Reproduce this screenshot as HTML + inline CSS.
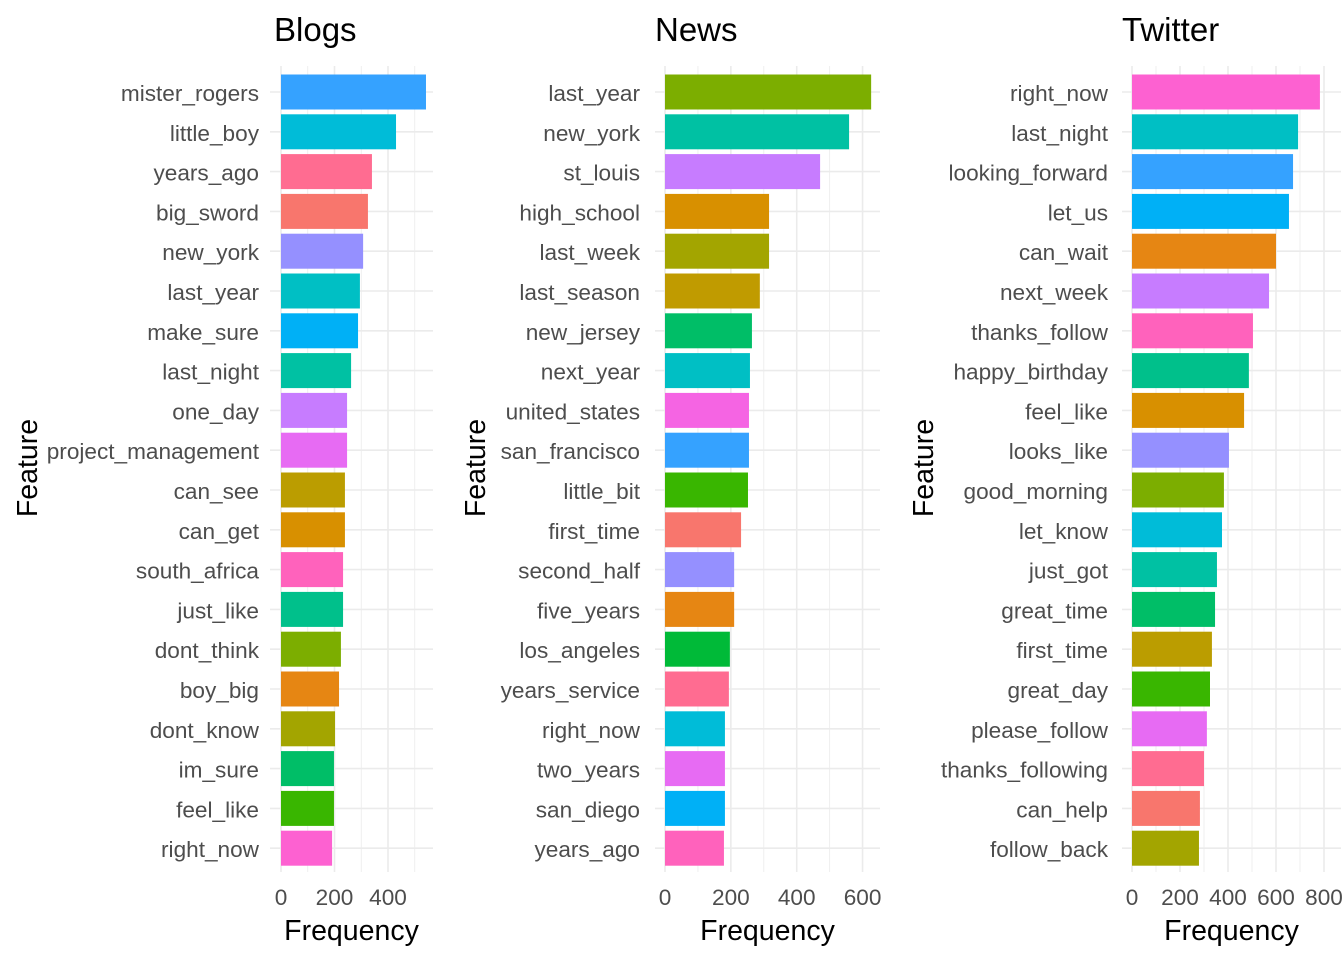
<!DOCTYPE html>
<html><head><meta charset="utf-8"><style>
body{margin:0;background:#fff;}
svg{display:block;font-family:"Liberation Sans",Arial,sans-serif;}
</style></head><body>
<svg id="c" width="1344" height="960"></svg>
<script>
const blogCats=["mister_rogers","little_boy","years_ago","big_sword","new_york","last_year","make_sure","last_night","one_day","project_management","can_see","can_get","south_africa","just_like","dont_think","boy_big","dont_know","im_sure","feel_like","right_now"];
const blogVals=[542,430,340,325,307,295,288,262,247,247,239,239,232,232,224,217,202,198,198,191];
const blogColors=["#35A2FF","#00BCD8","#FF6C91","#F8766D","#9590FF","#00BFC4","#00B0F6","#00C1A3","#C77CFF","#E76BF3","#BB9D00","#D89000","#FF62BC","#00C08B","#7CAE00","#E68613","#A3A500","#00BE67","#39B600","#FD61D1"];
const blogTicks=[0,200,400];
const newsCats=["last_year","new_york","st_louis","high_school","last_week","last_season","new_jersey","next_year","united_states","san_francisco","little_bit","first_time","second_half","five_years","los_angeles","years_service","right_now","two_years","san_diego","years_ago"];
const newsVals=[626,559,471,316,316,288,264,258,255,255,252,231,210,210,197,194,182,182,182,179];
const newsColors=["#7CAE00","#00C1A3","#C77CFF","#D89000","#A3A500","#C09B00","#00BE67","#00BFC4","#F564E3","#35A2FF","#39B600","#F8766D","#9590FF","#E68613","#00BA38","#FF6C91","#00BCD8","#E76BF3","#00B0F6","#FF62BC"];
const newsTicks=[0,200,400,600];
const twCats=["right_now","last_night","looking_forward","let_us","can_wait","next_week","thanks_follow","happy_birthday","feel_like","looks_like","good_morning","let_know","just_got","great_time","first_time","great_day","please_follow","thanks_following","can_help","follow_back"];
const twVals=[783,692,671,654,600,571,504,487,467,404,383,375,354,346,333,325,312,300,283,279];
const twColors=["#FD61D1","#00BFC4","#35A2FF","#00B0F6","#E68613","#C77CFF","#FF62BC","#00C08B","#D89000","#9590FF","#7CAE00","#00BCD8","#00C1A3","#00BE67","#BB9D00","#39B600","#E76BF3","#FF6C91","#F8766D","#A3A500"];
const twTicks=[0,200,400,600,800];

const svg=document.getElementById('c');
const NS="http://www.w3.org/2000/svg";
function mk(tag,attrs,parent){const e=document.createElementNS(NS,tag);for(const k in attrs)e.setAttribute(k,attrs[k]);(parent||svg).appendChild(e);return e;}

function panel(key,title,cats,vals,colors,ticks,x0,pxPer,left,right,labelR,titleX,featX){
  const g=mk('g',{});
  
  
  const xs=v=>x0+v*pxPer;
  const y0=92,step=39.8,bh=35;
  const ys=i=>y0+i*step;
  const top=66,bot=872;
  const maxT=ticks[ticks.length-1];
  for(let v=0;v<=maxT+100;v+=100){
    const x=xs(v); if(x>right) break;
    const l=mk('line',{x1:x,x2:x,y1:top,y2:bot,stroke:'#EBEBEB','stroke-width':(v%200===0)?1.6:0.8},g);
    
    
  }
  cats.forEach((c,i)=>{
    const l=mk('line',{x1:left,x2:right,y1:ys(i),y2:ys(i),stroke:'#EBEBEB','stroke-width':1.6},g);
    
    
  });
  cats.forEach((c,i)=>{
    const r=mk('rect',{x:xs(0),y:ys(i)-bh/2,width:xs(vals[i])-xs(0),height:bh,fill:colors[i]},g);
    
    
    const t=mk('text',{x:labelR,y:ys(i)+9,'text-anchor':'end','font-size':22.6,fill:'#4D4D4D'},g);
    t.textContent=c;
    
    
  });
  ticks.forEach(v=>{
    const t=mk('text',{x:xs(v),y:905,'text-anchor':'middle','font-size':22.6,fill:'#4D4D4D'},g);
    t.textContent=v;
    
    
  });
  const tt=mk('text',{x:titleX,y:41,'font-size':33,fill:'#000'},g);
  tt.textContent=title;
  
  
  const xt=mk('text',{x:(left+right)/2,y:940,'text-anchor':'middle','font-size':28.5,fill:'#000'},g);
  xt.textContent='Frequency';
  
  
  const yt=mk('text',{x:0,y:0,'text-anchor':'middle','font-size':28.5,fill:'#000',transform:`translate(${featX},468) rotate(-90)`},g);
  yt.textContent='Feature';
  
  
}
panel('blogs','Blogs',blogCats,blogVals,blogColors,blogTicks,281,0.2675,270,433,259,274,37);
panel('news','News',newsCats,newsVals,newsColors,newsTicks,665,0.3293,655,880,640,655,485);
panel('twitter','Twitter',twCats,twVals,twColors,twTicks,1132,0.24,1122,1341,1108,1122,933);
</script>
</body></html>
